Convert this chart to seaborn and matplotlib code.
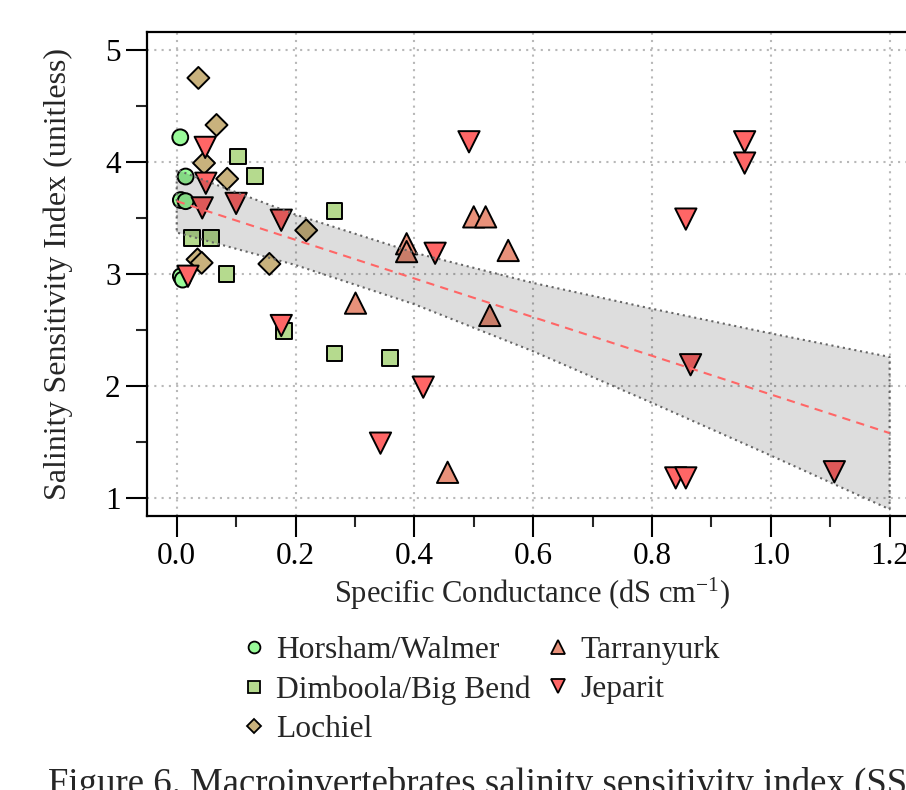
import numpy as np
import pandas as pd
import matplotlib
matplotlib.use("Agg")
import matplotlib.pyplot as plt
from matplotlib.lines import Line2D
import seaborn as sns

# ---------------- data ----------------
sites = ["Horsham/Walmer", "Dimboola/Big Bend", "Lochiel", "Tarranyurk", "Jeparit"]

horsham_x = [0.006, 0.015, 0.007, 0.015, 0.007, 0.010]
horsham_y = [4.22, 3.87, 3.66, 3.65, 2.98, 2.95]

dimboola_x = [0.103, 0.132, 0.026, 0.058, 0.266, 0.084, 0.181, 0.266, 0.359]
dimboola_y = [4.05, 3.875, 3.32, 3.32, 3.56, 3.00, 2.49, 2.29, 2.25]

lochiel_x = [0.0365, 0.067, 0.046, 0.085, 0.035, 0.042, 0.156, 0.218]
lochiel_y = [4.75, 4.33, 3.99, 3.85, 3.13, 3.10, 3.09, 3.39]

tarranyurk_x = [0.387, 0.387, 0.301, 0.500, 0.520, 0.558, 0.527, 0.456]
tarranyurk_y = [3.27, 3.20, 2.74, 3.51, 3.51, 3.21, 2.63, 1.23]

jeparit_x = [0.492, 0.956, 0.956, 0.857, 0.435, 0.865, 0.415, 0.840, 0.857,
             1.107, 0.048, 0.043, 0.100, 0.049, 0.176, 0.019, 0.176, 0.343]
jeparit_y = [4.18, 4.18, 3.99, 3.49, 3.185, 2.19, 1.99, 1.18, 1.18,
             1.235, 4.13, 3.59, 3.63, 3.81, 3.48, 2.98, 2.54, 1.49]

# fitted trend and confidence band
band_x = [0.0, 0.2, 0.4, 0.6, 0.8, 1.0, 1.2]
fit_y = [3.65, 3.305, 2.96, 2.615, 2.27, 1.925, 1.58]
band_hi = [3.93, 3.53, 3.19, 2.92, 2.69, 2.47, 2.26]
band_lo = [3.37, 3.08, 2.73, 2.31, 1.85, 1.38, 0.90]

x_ticks = [0.0, 0.2, 0.4, 0.6, 0.8, 1.0, 1.2]
x_ticklabels = ["0.0", "0.2", "0.4", "0.6", "0.8", "1.0", "1.2"]
x_minor = [0.1, 0.3, 0.5, 0.7, 0.9, 1.1]
y_ticks = [1, 2, 3, 4, 5]
y_ticklabels = ["1", "2", "3", "4", "5"]
y_minor = [1.5, 2.5, 3.5, 4.5]

colors = {"Horsham/Walmer": "#99FB99", "Dimboola/Big Bend": "#B5DA8E",
          "Lochiel": "#C9B27D", "Tarranyurk": "#E8917A", "Jeparit": "#FF6666"}
markers = {"Horsham/Walmer": "o", "Dimboola/Big Bend": "s", "Lochiel": "D",
           "Tarranyurk": "^", "Jeparit": "v"}
sizes = {"Horsham/Walmer": 130, "Dimboola/Big Bend": 125, "Lochiel": 125,
         "Tarranyurk": 235, "Jeparit": 235}
legend_ms = {"Horsham/Walmer": 8.5, "Dimboola/Big Bend": 8, "Lochiel": 7,
             "Tarranyurk": 9.5, "Jeparit": 9.5}

frames = []
for name, xs, ys in [("Horsham/Walmer", horsham_x, horsham_y),
                     ("Dimboola/Big Bend", dimboola_x, dimboola_y),
                     ("Lochiel", lochiel_x, lochiel_y),
                     ("Tarranyurk", tarranyurk_x, tarranyurk_y),
                     ("Jeparit", jeparit_x, jeparit_y)]:
    frames.append(pd.DataFrame({"x": xs, "y": ys, "Site": name}))
df = pd.concat(frames, ignore_index=True)

# ---------------- style ----------------
sns.set_style("ticks")
plt.rcParams["font.family"] = ["Liberation Serif", "DejaVu Serif"]
plt.rcParams["mathtext.fontset"] = "custom"
plt.rcParams["mathtext.rm"] = "Liberation Serif"
plt.rcParams["mathtext.it"] = "Liberation Serif:italic"

fig = plt.figure(figsize=(9.06, 7.90), dpi=100)
ax = fig.add_axes([147 / 906, (790 - 516) / 790, (949 - 147) / 906, (516 - 32) / 790])

sns.scatterplot(data=df, x="x", y="y", hue="Site", style="Site", size="Site",
                palette=colors, markers=markers, sizes=sizes,
                hue_order=sites, style_order=sites, size_order=sites,
                edgecolor="black", linewidth=1.4, alpha=1, legend=False,
                ax=ax, zorder=3)

ax.fill_between(band_x, band_lo, band_hi, facecolor=(0, 0, 0, 0.135),
                edgecolor="0.4", linestyle=(0, (1, 1.8)), linewidth=1.5, zorder=4)
sns.lineplot(x=band_x, y=fit_y, color="#FF6666", linewidth=1.5,
             linestyle=(0, (4, 3)), ax=ax, zorder=5)

ax.set_xlim(-0.05, 1.30)
ax.set_ylim(0.84, 5.16)
ax.set_xticks(x_ticks)
ax.set_xticklabels(x_ticklabels)
ax.set_xticks(x_minor, minor=True)
ax.set_yticks(y_ticks)
ax.set_yticklabels(y_ticklabels)
ax.set_yticks(y_minor, minor=True)

ax.grid(True, which="major", color="#B8B8B8", linestyle=(0, (1, 2.5)), linewidth=1.5)
ax.set_axisbelow(True)

for sp in ax.spines.values():
    sp.set_linewidth(1.6)
    sp.set_color("black")
ax.tick_params(which="major", direction="out", length=15, width=1.5,
               labelsize=22.5, pad=4, colors="black")
ax.tick_params(which="minor", direction="out", length=8, width=1.5)
ax.tick_params(top=False, right=False, which="both")

ax.set_xlabel(r"Specific Conductance (dS cm$^{\mathrm{-1}}$)", fontsize=22)
ax.set_ylabel("Salinity Sensitivity Index (unitless)", fontsize=23)
ax.xaxis.set_label_coords((532 - 147) / 802, (516 - 576) / 484)
ax.yaxis.set_label_coords((73 - 147) / 802, 0.5)

handles = [Line2D([], [], marker=markers[s], markersize=legend_ms[s], linestyle="None",
                  markerfacecolor=colors[s], markeredgecolor="black",
                  markeredgewidth=1.3, label=s) for s in sites]
fig.legend(handles=handles, ncol=2, loc="upper left",
           bbox_to_anchor=(238 / 906, (790 - 636) / 790), frameon=False,
           fontsize=22.7, handlelength=1.0, handletextpad=0.2, columnspacing=0.38,
           labelspacing=0.32, borderpad=0, borderaxespad=0)

fig.text(48 / 906, -4 / 790, "Figure 6. Macroinvertebrates salinity sensitivity index (SSI)",
         fontsize=26.5, ha="left", va="baseline")

fig.savefig("out.png", dpi=100)
